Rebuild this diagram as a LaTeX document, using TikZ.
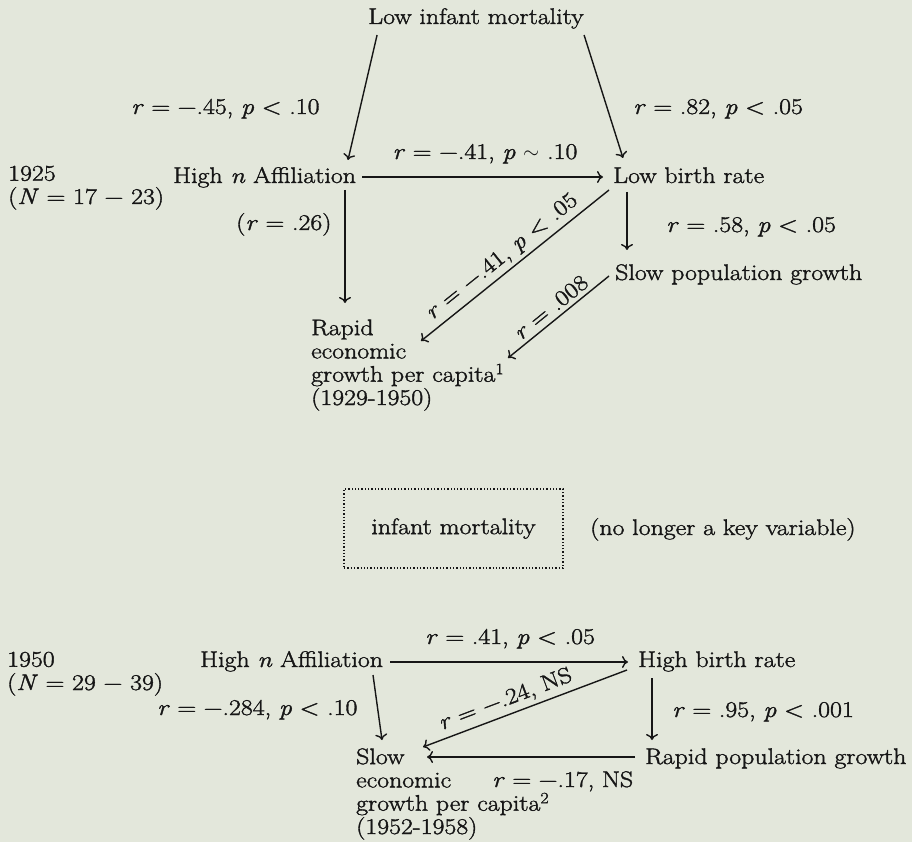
\documentclass[tikz,border=0pt]{standalone}
\usepackage{fontspec}
\setmainfont{Latin Modern Roman}[FakeStretch=1.15,FakeBold=1.6]
\usetikzlibrary{arrows.meta,calc}
\definecolor{paper}{RGB}{227,231,219}
\definecolor{ink}{RGB}{22,22,22}
\newcommand\dfont{\fontsize{22.5}{23.3}\selectfont}
\newcommand\vr{\textit{r}}
\newcommand\vp{\textit{p}}
\begin{document}
\begin{tikzpicture}[x=1pt,y=-1pt,
  lbl/.style={inner sep=0pt,text=ink,font=\dfont},
  arr/.style={draw=ink,line width=1.4pt,-{To[length=6pt,width=12pt]}},
  slab/.style={lbl,sloped,above=4pt}]
\fill[paper] (0,0) rectangle (912,842);
\useasboundingbox (0,0) rectangle (912,842);

% ---------------- 1925 ----------------
\node[lbl,anchor=base] (lim) at (476,24) {Low infant mortality};
\node[lbl,anchor=base west,align=left] (y25) at (8,204) {1925\\(\textit{N} = 17 − 23)};
\node[lbl,anchor=base west] (ha1) at (173,183) {High \textit{n} Affiliation};
\node[lbl,anchor=base west] (lbr) at (613,183) {Low birth rate};
\node[lbl,anchor=base west] (spg) at (615,280) {Slow population growth};
\node[lbl,anchor=base west,align=left] (reg) at (311,405) {Rapid\\economic\\growth per capita\textsuperscript{1}\\(1929-1950)};

\node[lbl,anchor=base west] (l1) at (131,114) {\vr\ = −.45, \vp\ < .10};
\node[lbl,anchor=base west] (l2) at (633,114) {\vr\ = .82, \vp\ < .05};
\node[lbl,anchor=base] (l3) at (485,159) {\vr\ = −.41, \vp\ $\sim$ .10};
\node[lbl,anchor=base west] (l4) at (236,230) {(\vr\ = .26)};
\node[lbl,anchor=base west] (l5) at (666,232) {\vr\ = .58, \vp\ < .05};

\draw[arr] ($(lim.base west)+(9,11)$) -- ($(ha1.base west)+(175,-23)$);
\draw[arr] ($(lim.base west)+(216,11)$) -- ($(lbr.base west)+(10,-25)$);
\draw[arr] ($(ha1.base west)+(189,-6)$) -- ($(lbr.base west)+(-10,-6)$);
\draw[arr] ($(ha1.base west)+(172,7)$) -- ($(reg.base west)+(34,-102)$);
\draw[arr] ($(lbr.base west)+(14,9)$) -- ($(spg.base west)+(12,-30)$);
\draw[arr] ($(lbr.base west)+(-4,7)$) -- node[slab,pos=0.52] {\vr\ = −.41, \vp\ < .05} ($(reg.base west)+(110,-64)$);
\draw[arr] ($(spg.base west)+(-6,-4)$) -- node[slab,pos=0.5] {\vr\ = .008} ($(reg.base west)+(197,-47)$);

% ---------------- middle ----------------
\node[lbl,draw=ink,line width=1.3pt,dotted,minimum width=219pt,minimum height=79pt] (imb) at (453.5,528.5) {infant mortality};
\node[lbl,anchor=base west] (nlk) at (590,535) {(no longer a key variable)};

% ---------------- 1950 ----------------
\node[lbl,anchor=base west,align=left] (y50) at (7,690) {1950\\(\textit{N} = 29 − 39)};
\node[lbl,anchor=base west] (ha2) at (200,667) {High \textit{n} Affiliation};
\node[lbl,anchor=base west] (hbr) at (638,667) {High birth rate};
\node[lbl,anchor=base west,align=left] (seg) at (356,834) {Slow\\economic\\growth per capita\textsuperscript{2}\\(1952-1958)};
\node[lbl,anchor=base west] (rpg) at (645,764) {Rapid population growth};

\node[lbl,anchor=base west] (m1) at (425,644) {\vr\ = .41, \vp\ < .05};
\node[lbl,anchor=base west] (m2) at (157,715) {\vr\ = −.284, \vp\ < .10};
\node[lbl,anchor=base west] (m3) at (672,717) {\vr\ = .95, \vp\ < .001};
\node[lbl,anchor=base west] (m4) at (492,787) {\vr\ = −.17, NS};

\draw[arr] ($(ha2.base west)+(190,-5)$) -- ($(hbr.base west)+(-10,-5)$);
\draw[arr] ($(ha2.base west)+(173,8)$) -- ($(seg.base west)+(26,-94)$);
\draw[arr] ($(hbr.base west)+(-11,3)$) -- node[slab,pos=0.57] {\vr\ = −.24, NS} ($(seg.base west)+(67,-87)$);
\draw[arr] ($(hbr.base west)+(14,11)$) -- ($(rpg.base west)+(7,-24)$);
\draw[arr] ($(rpg.base west)+(-10,-7)$) -- ($(seg.base west)+(71,-77)$);
\end{tikzpicture}
\end{document}
